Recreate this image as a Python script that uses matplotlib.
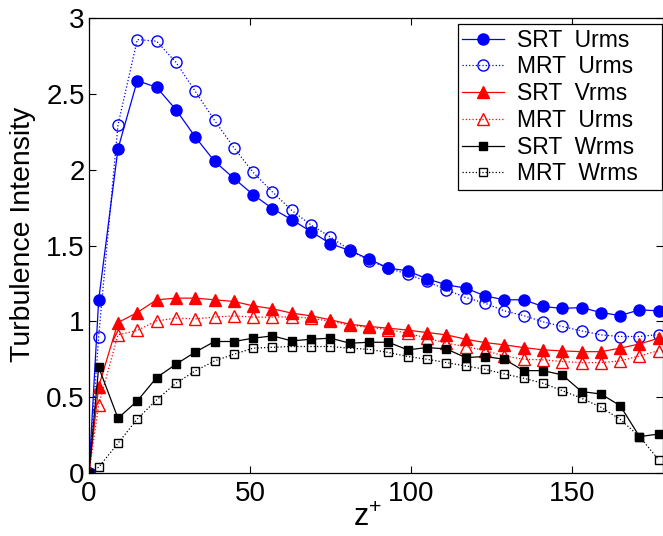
import matplotlib
matplotlib.use("Agg")
import matplotlib.pyplot as plt
import numpy as np

plt.rcParams['font.family'] = ['Liberation Sans', 'DejaVu Sans']
plt.rcParams['mathtext.default'] = 'regular'

z = [0, 3, 9, 15, 21, 27, 33, 39, 45, 51, 57, 63, 69, 75, 81, 87, 93, 99, 105,
     111, 117, 123, 129, 135, 141, 147, 153, 159, 165, 171, 177]

srt_u = [0, 1.14, 2.137, 2.587, 2.543, 2.396, 2.216, 2.055, 1.943, 1.835, 1.743,
         1.670, 1.591, 1.512, 1.467, 1.41, 1.351, 1.333, 1.28, 1.241, 1.219, 1.168,
         1.142, 1.142, 1.098, 1.085, 1.091, 1.058, 1.038, 1.076, 1.069]
mrt_u = [0, 0.90, 2.295, 2.858, 2.847, 2.708, 2.517, 2.325, 2.145, 1.982, 1.853,
         1.731, 1.635, 1.556, 1.47, 1.40, 1.35, 1.311, 1.263, 1.208, 1.157, 1.12,
         1.069, 1.038, 0.997, 0.966, 0.937, 0.911, 0.90, 0.90, 0.913]
srt_v = [0, 0.57, 0.992, 1.058, 1.142, 1.153, 1.153, 1.142, 1.131, 1.102, 1.083,
         1.054, 1.036, 1.01, 0.981, 0.966, 0.955, 0.942, 0.926, 0.911, 0.882, 0.86,
         0.845, 0.827, 0.812, 0.805, 0.80, 0.80, 0.823, 0.851, 0.889]
mrt_v = [0, 0.449, 0.911, 0.94, 1.003, 1.021, 1.016, 1.028, 1.036, 1.028, 1.028,
         1.03, 1.021, 1.0, 0.975, 0.96, 0.945, 0.922, 0.889, 0.856, 0.834, 0.807,
         0.772, 0.75, 0.746, 0.735, 0.728, 0.728, 0.739, 0.772, 0.807]
srt_w = [0, 0.698, 0.361, 0.475, 0.629, 0.717, 0.797, 0.867, 0.867, 0.889, 0.904,
         0.871, 0.882, 0.889, 0.856, 0.862, 0.862, 0.812, 0.827, 0.818, 0.761, 0.768,
         0.75, 0.675, 0.675, 0.647, 0.537, 0.521, 0.444, 0.24, 0.257]
mrt_w = [0, 0.038, 0.196, 0.356, 0.482, 0.592, 0.673, 0.739, 0.783, 0.823, 0.829,
         0.834, 0.834, 0.834, 0.823, 0.815, 0.795, 0.768, 0.75, 0.728, 0.706, 0.684,
         0.653, 0.625, 0.592, 0.543, 0.493, 0.434, 0.354, 0.24, 0.086]

labels = ['SRT  Urms', 'MRT  Urms', 'SRT  Vrms', 'MRT  Urms', 'SRT  Wrms', 'MRT  Wrms']
xticks = [0, 50, 100, 150]
yticks = [0, 0.5, 1, 1.5, 2, 2.5, 3]
yticklabels = ['0', '0.5', '1', '1.5', '2', '2.5', '3']

fig = plt.figure(figsize=(6.63, 5.36), dpi=100)
ax = fig.add_axes([89 / 663, 63 / 536, 574 / 663, 455 / 536])

pad_lbl = [l + '   ' for l in labels]  # trailing room inside the legend box

lw = 0.9
ax.plot(z, srt_u, '-', color='blue', lw=lw, marker='o', ms=8,
        mfc='blue', mec='blue', label=pad_lbl[0])
ax.plot(z, mrt_u, ':', color='blue', lw=lw, marker='o', ms=8,
        mfc='none', mec='blue', mew=1.0, label=pad_lbl[1])
ax.plot(z, srt_v, '-', color='red', lw=lw, marker='^', ms=8.5,
        mfc='red', mec='red', label=pad_lbl[2])
ax.plot(z, mrt_v, ':', color='red', lw=lw, marker='^', ms=8.5,
        mfc='none', mec='red', mew=1.0, label=pad_lbl[3])
ax.plot(z, srt_w, '-', color='black', lw=lw, marker='s', ms=6,
        mfc='black', mec='black', label=pad_lbl[4])
ax.plot(z, mrt_w, ':', color='black', lw=lw, marker='s', ms=6,
        mfc='none', mec='black', mew=1.0, label=pad_lbl[5])

ax.set_xlim(0, 178.3)
ax.set_ylim(0, 3)
ax.set_xticks(xticks)
ax.set_xticklabels([str(t) for t in xticks])
ax.set_yticks(yticks)
ax.set_yticklabels(yticklabels)
ax.tick_params(direction='in', length=5, width=0.8, labelsize=20,
               top=True, right=True)
ax.tick_params(axis='x', pad=6)
ax.tick_params(axis='y', pad=3)
for s in ax.spines.values():
    s.set_linewidth(0.9)

ax.set_xlabel('z$^{+}$', fontsize=22)
ax.xaxis.set_label_coords(0.485, -0.065)
ax.set_ylabel('Turbulence Intensity', fontsize=20.5)
ax.yaxis.set_label_coords(-0.092, 0.525)

leg = ax.legend(loc='upper right', fontsize=16.5, frameon=True, fancybox=False,
                edgecolor='black', framealpha=1, borderpad=0.2, labelspacing=0.165,
                handlelength=1.8, handletextpad=0.6, borderaxespad=0,
                bbox_to_anchor=(662 / 663, 1 - 24 / 536),
                bbox_transform=fig.transFigure)
leg.get_frame().set_linewidth(0.9)

fig.savefig('out.png', dpi=100)
